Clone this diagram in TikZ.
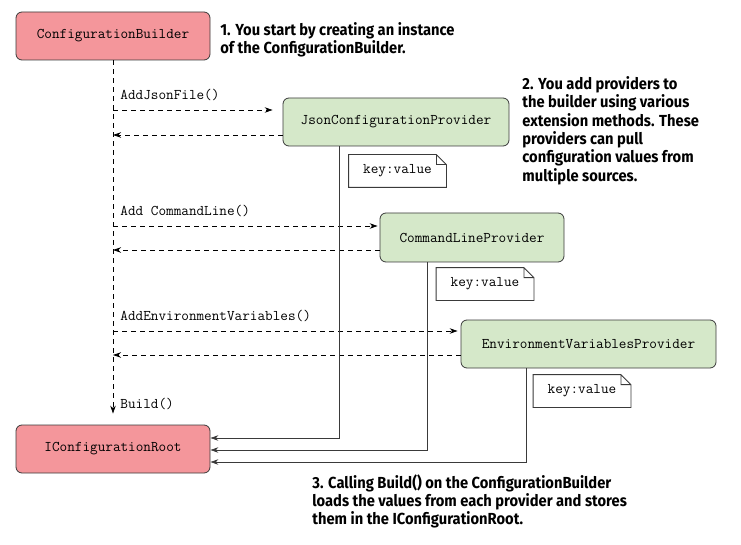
\documentclass[tikz,border=0pt]{standalone}
\usepackage{fontspec}
\newfontfamily\notefont[FakeStretch=0.92]{Fira Sans}
\usetikzlibrary{positioning, calc, arrows.meta}
\definecolor{rootred}{HTML}{F4969B}
\definecolor{provgreen}{HTML}{D5E8C9}
\definecolor{edgegray}{HTML}{3A3A3A}

\begin{document}
\begin{tikzpicture}[x=1pt, y=-1pt, line width=0.8pt,
		box/.style={draw=edgegray, rounded corners=6pt, minimum height=48pt, inner sep=0pt, font=\ttfamily\fontsize{14.8}{16}\selectfont},
		root/.style={box, fill=rootred},
		prov/.style={box, fill=provgreen},
		kv/.style={minimum width=97pt, minimum height=32pt, inner sep=0pt, font=\ttfamily\fontsize{14.8}{16}\selectfont},
		msglbl/.style={inner sep=0pt, anchor=south west, font=\ttfamily\fontsize{14.8}{16}\selectfont},
		note/.style={inner sep=0pt, anchor=north west, align=left, font=\notefont\bfseries\fontsize{16}{18.4}\selectfont},
		tip/.style={-{Stealth[length=8pt, width=5.5pt]}},
		msg/.style={tip, draw=black, dash pattern=on 5pt off 4pt},
		build/.style={tip, draw=edgegray}]
	\useasboundingbox (0,0) rectangle (741,545);
	% participants
	\node[root, minimum width=194pt] (CB) at (113,36) {ConfigurationBuilder};
	\node[root, minimum width=194pt] (ICR) at (113,449) {IConfigurationRoot};
	\node[prov, minimum width=226pt] (JP) at (396,122) {JsonConfigurationProvider};
	\node[prov, minimum width=184pt, minimum height=49pt] (CLP) at (472,237.5) {CommandLineProvider};
	\node[prov, minimum width=255pt] (EVP) at (588.5,344) {EnvironmentVariablesProvider};
	% key:value notes
	\node[kv] (KV1) at (397.5,171) {key:value};
	\node[kv] (KV2) at (485,284) {key:value};
	\node[kv] (KV3) at (582,391) {key:value};
	\foreach \n in {KV1,KV2,KV3}
		\draw[edgegray, fill=white] (\n.south west) -- (\n.north west) -- ($(\n.north east)+(-10,0)$) -- ($(\n.north east)+(0,10)$) -- (\n.south east) -- cycle
			($(\n.north east)+(-10,0)$) -- ++(0,10) -- ($(\n.north east)+(0,10)$);
	\foreach \n in {KV1,KV2,KV3}
		\node[kv] at (\n) {key:value};
	% builder lifeline
	\draw[msg] (CB.south) -- ($(CB.south |- ICR.north)+(0,-11)$) node[pos=1, msglbl, anchor=west, xshift=7pt, yshift=10pt] {Build()};
	% calls and returns
	\draw[msg] ($(CB.south |- JP.west)+(0,-12)$) -- ($(JP.west)+(-10,-12)$) node[pos=0, msglbl, xshift=7pt, yshift=9pt] {AddJsonFile()};
	\draw[msg] ($(JP.west)+(0,13)$) -- ($(CB.south |- JP.west)+(0,13)$);
	\draw[msg] ($(CB.south |- CLP.west)+(0,-11.5)$) -- ($(CLP.west)+(-2,-11.5)$) node[pos=0, msglbl, xshift=7pt, yshift=9pt] {Add CommandLine()};
	\draw[msg] ($(CLP.west)+(0,12.5)$) -- ($(CB.south |- CLP.west)+(0,12.5)$);
	\draw[msg] ($(CB.south |- EVP.west)+(0,-13)$) -- ($(EVP.west)+(-3,-13)$) node[pos=0, msglbl, xshift=7pt, yshift=9pt] {AddEnvironmentVariables()};
	\draw[msg] ($(EVP.west)+(0,11)$) -- ($(CB.south |- EVP.west)+(0,11)$);
	% provider values into the root
	\draw[build] ($(JP.south west)+(57,0)$) |- ($(ICR.east)+(0,-11)$);
	\draw[build] ($(CLP.south west)+(48,0)$) |- ($(ICR.east)+(0,1)$);
	\draw[build] ($(EVP.south west)+(66,0)$) |- ($(ICR.east)+(0,13)$);
	% annotations
	\node[note] (N1) at (220,22) {1. You start by creating an instance\\of the ConfigurationBuilder.};
	\node[note] (N2) at (522,76) {2. You add providers to\\the builder using various\\extension methods. These\\providers can pull\\configuration values from\\multiple sources.};
	\node[note] (N3) at (312,474) {3. Calling Build() on the ConfigurationBuilder\\loads the values from each provider and stores\\them in the IConfigurationRoot.};
\end{tikzpicture}
\end{document}
